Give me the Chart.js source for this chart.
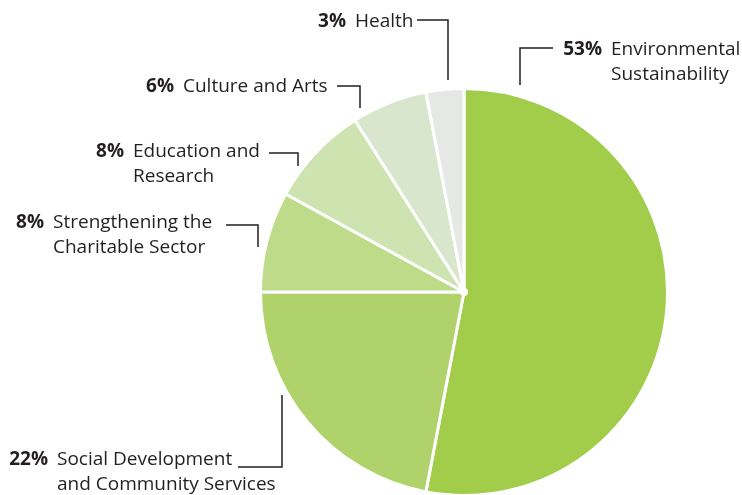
<!DOCTYPE html>
<html>
<head>
<meta charset="utf-8">
<script src="https://cdn.jsdelivr.net/npm/chart.js@4"></script>
<style>
  html, body { margin: 0; background: #fff; overflow: hidden; }
  canvas { display: block; }
</style>
</head>
<body>
<canvas id="pieChart" width="742" height="497"></canvas>
<script>
// data, clockwise from 12 o'clock
var categories = [
    ["Environmental", "Sustainability"],
    ["Social Development", "and Community Services"],
    ["Strengthening the", "Charitable Sector"],
    ["Education and", "Research"],
    ["Culture and Arts"],
    ["Health"]
];
var shares = [53, 22, 8, 8, 6, 3];
var sliceColors = ['#a2cd4a', '#afd36a', '#bedb8a', '#cde3b0', '#d7e6cd', '#e6e8e6'];

// where each label sits and how its leader runs (text x, first baseline, polyline)
var labelLayout = [
    { x: 611, y: 55,  line: [[553, 48], [520, 48], [520, 85]] },
    { x: 57,  y: 465, line: [[238, 467], [282, 467], [282, 395]] },
    { x: 53,  y: 228, line: [[226, 225], [258, 225], [258, 247]] },
    { x: 133, y: 157, line: [[269, 153], [298, 153], [298, 166]] },
    { x: 183, y: 92,  line: [[337, 86], [360, 86], [360, 108]] },
    { x: 355, y: 27,  line: [[417, 20], [448, 20], [448, 80]] }
];

// labels + leader lines
var calloutPlugin = {
    id: 'callouts',
    afterDatasetsDraw: function(chart) {
        var ctx = chart.ctx;
        var arc = chart.getDatasetMeta(0).data[0];
        ctx.save();
        // small white hub in the middle
        ctx.fillStyle = '#fff';
        ctx.beginPath();
        ctx.arc(arc.x, arc.y, 4, 0, Math.PI * 2);
        ctx.fill();

        ctx.strokeStyle = '#231f20';
        ctx.lineWidth = 1.5;
        ctx.fillStyle = '#231f20';
        ctx.textBaseline = 'alphabetic';
        labelLayout.forEach(function(l, i){
            ctx.beginPath();
            ctx.moveTo(l.line[0][0], l.line[0][1]);
            for (var k = 1; k < l.line.length; k++) ctx.lineTo(l.line[k][0], l.line[k][1]);
            ctx.stroke();

            ctx.font = 'bold 19px "Open Sans"';
            ctx.textAlign = 'right';
            ctx.fillText(chart.data.datasets[0].data[i] + '%', l.x - 9, l.y);

            ctx.font = '19px "Open Sans"';
            ctx.textAlign = 'left';
            chart.data.labels[i].forEach(function(t, j){
                ctx.fillText(t, l.x, l.y + j * 25);
            });
        });
        ctx.restore();
    }
};

var ctx = document.getElementById("pieChart");
var pie = new Chart(ctx, {
    type: 'pie',
    data: {
        labels: categories,
        datasets: [{
            data: shares,
            backgroundColor: sliceColors,
            borderColor: '#ffffff',
            borderWidth: 3
        }]
    },
    options: {
        responsive: false,
        animation: false,
        events: [],
        layout: { padding: { left: 259, right: 73, top: 87, bottom: 0 } },
        plugins: {
            legend: { display: false },
            tooltip: { enabled: false }
        }
    },
    plugins: [calloutPlugin]
});
</script>
</body>
</html>
